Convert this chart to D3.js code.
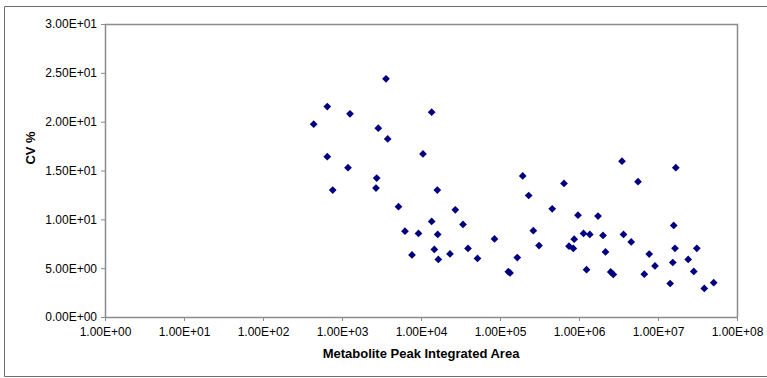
<!DOCTYPE html>
<html>
<head>
<meta charset="utf-8">
<script src="https://cdn.jsdelivr.net/npm/d3@7"></script>
<style>
  html, body { margin: 0; padding: 0; background: #ffffff; }
  svg { display: block; font-family: "Liberation Sans", Arial, sans-serif; }
</style>
</head>
<body>
<div id="chart"></div>
<script>
// Metabolite peak area vs CV %
const peakArea = [
  438, 651, 651, 763, 1262, 1191, 2879, 2749, 2693, 3606,
  3788, 5190, 6270, 7690, 9295, 10600, 13650, 13650, 14740, 16080,
  16270, 16560, 23280, 27180, 34030, 39360, 51880, 85190, 127400, 133900,
  165500, 193800, 230800, 264100, 311800, 458000, 645700, 746900, 847500, 869600,
  971000, 1140000, 1370000, 1245000, 1741000, 2013000, 2164000, 2519000, 2718000, 3500000,
  3659000, 4580000, 5585000, 6710000, 7740000, 9160000, 14260000, 15390000, 15810000, 16410000,
  16800000, 24100000, 28380000, 30980000, 38550000, 50700000,
];
const cvPercent = [
  19.74, 21.55, 16.42, 13.0, 20.8, 15.29, 19.33, 14.23, 13.2, 24.39,
  18.23, 11.29, 8.79, 6.36, 8.56, 16.69, 20.97, 9.79, 6.92, 13.0,
  8.45, 5.89, 6.46, 10.98, 9.48, 7.02, 5.99, 7.99, 4.64, 4.51,
  6.09, 14.44, 12.44, 8.84, 7.31, 11.08, 13.67, 7.25, 7.02, 7.97,
  10.43, 8.56, 8.45, 4.84, 10.33, 8.35, 6.66, 4.62, 4.36, 15.95,
  8.45, 7.68, 13.85, 4.38, 6.45, 5.23, 3.43, 5.58, 9.38, 7.03,
  15.29, 5.9, 4.66, 7.03, 2.92, 3.51,
];
const xTicks = [1e0, 1e1, 1e2, 1e3, 1e4, 1e5, 1e6, 1e7, 1e8];
const yTicks = [0, 5, 10, 15, 20, 25, 30];

const width = 767;
const height = 378;
const margin = { top: 24, right: 30, bottom: 61, left: 105 };
const innerW = width - margin.left - margin.right;
const innerH = height - margin.top - margin.bottom;

// Excel style scientific labels, e.g. 1.00E+03
const sci = (v) => {
  const [m, e] = v.toExponential(2).split('e');
  const n = +e;
  return `${m}E${n < 0 ? '-' : '+'}${String(Math.abs(n)).padStart(2, '0')}`;
};

const svg = d3
  .select('#chart')
  .append('svg')
  .attr('width', width)
  .attr('height', height);

// outer chart frame
svg
  .append('path')
  .attr('d', `M${width},6.5H4.5V376.5H${width}`)
  .attr('fill', 'none')
  .attr('stroke', '#6e6e6e')
  .attr('stroke-width', 1);

const g = svg
  .append('g')
  .attr('transform', `translate(${margin.left},${margin.top})`);

const x = d3.scaleLog().domain([1e0, 1e8]).range([0, innerW]);
const y = d3.scaleLinear().domain([0, 30]).range([innerH, 0]);

// plot area border (top + right)
g.append('path')
  .attr('d', `M0,0.5H${innerW + 0.5}V${innerH}`)
  .attr('fill', 'none')
  .attr('stroke', '#8c8c8c')
  .attr('stroke-width', 1.5);

// Axes
const xAxis = g
  .append('g')
  .attr('transform', `translate(0,${innerH})`)
  .call(d3.axisBottom(x).tickValues(xTicks).tickFormat(sci).tickSizeOuter(0).tickSizeInner(4).tickPadding(6));

const yAxis = g
  .append('g')
  .call(d3.axisLeft(y).tickValues(yTicks).tickFormat(sci).tickSizeOuter(0).tickSizeInner(4).tickPadding(4));

[xAxis, yAxis].forEach((ax) => {
  ax.select('.domain').attr('stroke', '#8c8c8c').attr('stroke-width', 1.5);
  ax.selectAll('.tick line').attr('stroke', '#8c8c8c');
  ax.selectAll('.tick text')
    .attr('font-size', '12px')
    .attr('font-family', '"Liberation Sans", Arial, sans-serif')
    .attr('fill', '#000');
});

// Axis titles
svg
  .append('text')
  .attr('x', margin.left + innerW / 2)
  .attr('y', 358)
  .attr('text-anchor', 'middle')
  .attr('font-size', '13px')
  .attr('font-weight', 'bold')
  .text('Metabolite Peak Integrated Area');

svg
  .append('text')
  .attr('transform', `translate(35,${margin.top + 124}) rotate(-90)`)
  .attr('text-anchor', 'middle')
  .attr('font-size', '13px')
  .attr('font-weight', 'bold')
  .text('CV %');

// Diamond markers
const diamond = d3.symbol().type(d3.symbolSquare).size(30);

g.selectAll('.pt')
  .data(peakArea.map((a, i) => ({ a, cv: cvPercent[i] })))
  .enter()
  .append('path')
  .attr('class', 'pt')
  .attr('d', diamond)
  .attr('transform', (d) => `translate(${x(d.a)},${y(d.cv)}) rotate(45)`)
  .attr('fill', '#000080');
</script>
</body>
</html>
